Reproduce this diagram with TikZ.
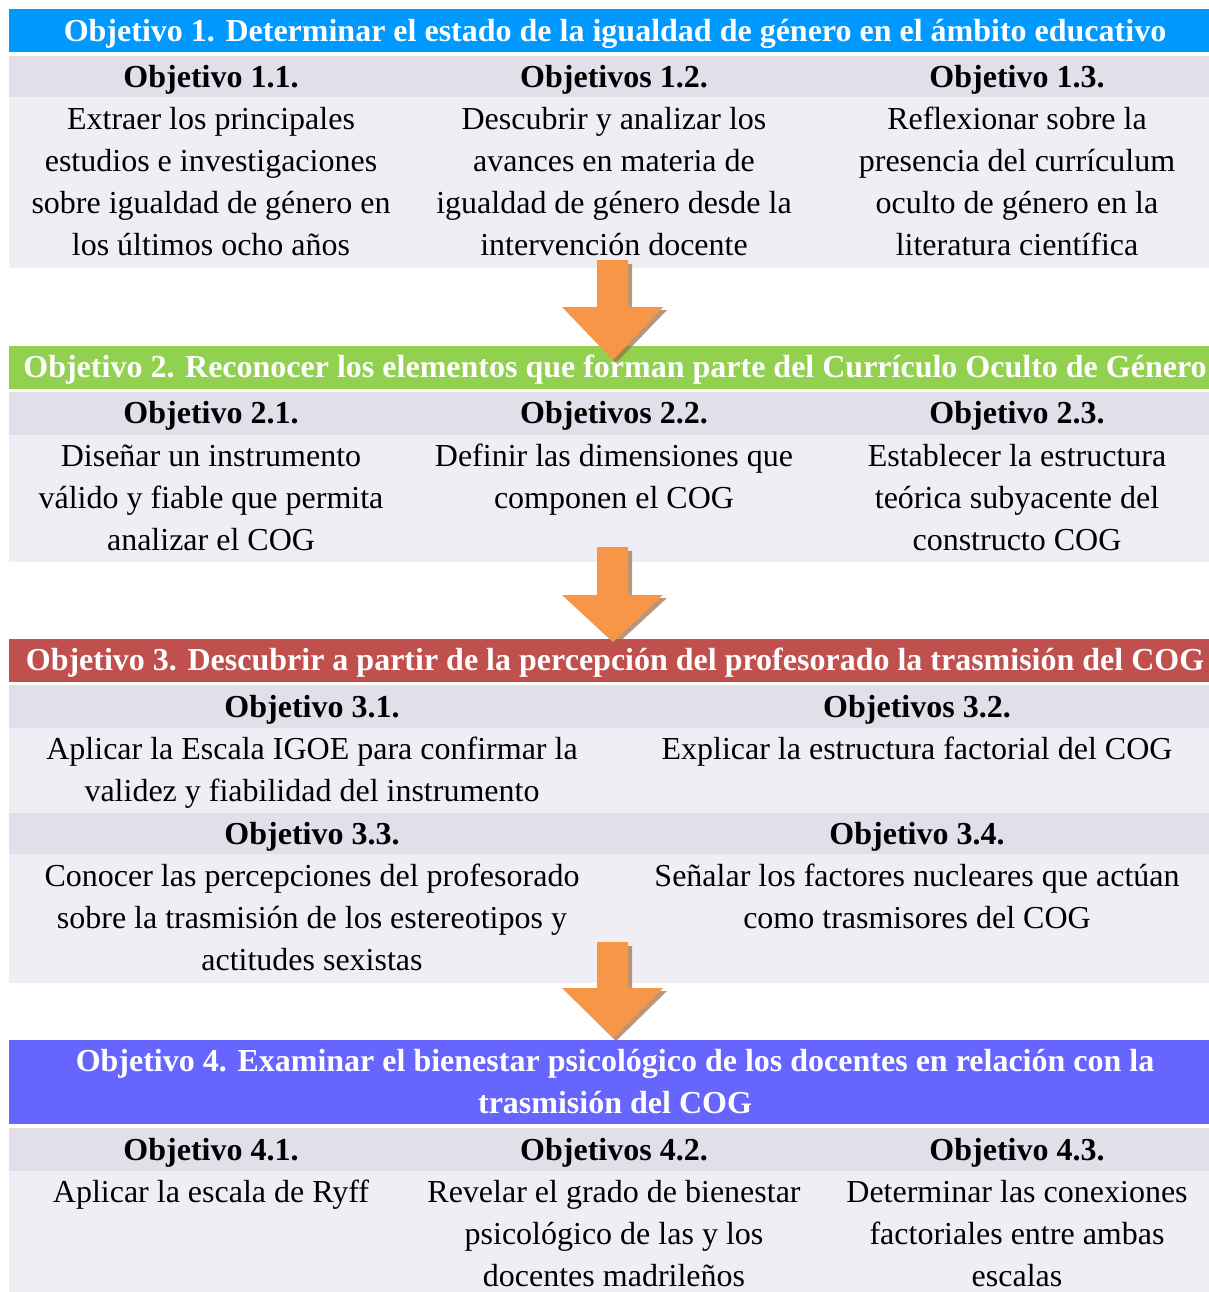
\documentclass[tikz,border=0pt]{standalone}
\usepackage{fontspec}
\setmainfont{Liberation Serif}
\definecolor{bOne}{HTML}{0099FF}
\definecolor{bTwo}{HTML}{92D050}
\definecolor{bThree}{HTML}{C0504D}
\definecolor{bFour}{HTML}{6666FF}
\definecolor{hdfill}{HTML}{E2DFEB}
\definecolor{bdfill}{HTML}{F0EEF5}
\definecolor{arrfill}{HTML}{F79646}
\definecolor{arrshadow}{HTML}{9C6A43}
\begin{document}
\begin{tikzpicture}[x=1pt,y=-1pt,
  bannertxt/.style={anchor=north,inner sep=0pt,align=center,text=white,font=\bfseries\fontsize{32}{42}\selectfont},
  headtxt/.style={anchor=north,inner sep=0pt,align=center,font=\bfseries\fontsize{32}{42}\selectfont},
  bodytxt/.style={anchor=north,inner sep=0pt,align=center,font=\fontsize{32}{42}\selectfont},
  hdrow/.style={fill=hdfill},
  bdrow/.style={fill=bdfill}]
\fill[white] (0,0) rectangle (1209,1292);
\useasboundingbox (0,0) rectangle (1209,1292);
% ---------- block 1
\fill[bOne] (9,9) rectangle (1209,52);
\fill[hdrow] (9,56) rectangle (1209,97);
\fill[bdrow] (9,97) rectangle (1209,268);
\node[bannertxt] (t1) at (615,11.6) {\strut Objetivo 1. Determinar el estado de la igualdad de género en el ámbito educativo};
\node[headtxt] (h11) at (211,57.6) {\strut Objetivo 1.1.};
\node[headtxt] (h12) at (614,57.6) {\strut Objetivos 1.2.};
\node[headtxt] (h13) at (1017,57.6) {\strut Objetivo 1.3.};
\node[bodytxt] (o11) at (211,99.6) {\strut Extraer los principales\\estudios e investigaciones\\sobre igualdad de género en\\los últimos ocho años};
\node[bodytxt] (o12) at (614,99.6) {\strut Descubrir y analizar los\\avances en materia de\\igualdad de género desde la\\intervención docente};
\node[bodytxt] (o13) at (1017,99.6) {\strut Reflexionar sobre la\\presencia del currículum\\oculto de género en la\\literatura científica};
% ---------- block 2
\fill[bTwo] (9,346) rectangle (1209,389);
\fill[hdrow] (9,392) rectangle (1209,435);
\fill[bdrow] (9,435) rectangle (1209,562);
\node[bannertxt] (t2) at (615,347.6) {\strut Objetivo 2. Reconocer los elementos que forman parte del Currículo Oculto de Género};
\node[headtxt] (h21) at (211,393.6) {\strut Objetivo 2.1.};
\node[headtxt] (h22) at (614,393.6) {\strut Objetivos 2.2.};
\node[headtxt] (h23) at (1017,393.6) {\strut Objetivo 2.3.};
\node[bodytxt] (o21) at (211,436.6) {\strut Diseñar un instrumento\\válido y fiable que permita\\analizar el COG};
\node[bodytxt] (o22) at (614,436.6) {\strut Definir las dimensiones que\\componen el COG};
\node[bodytxt] (o23) at (1017,436.6) {\strut Establecer la estructura\\teórica subyacente del\\constructo COG};
% ---------- block 3
\fill[bThree] (9,639) rectangle (1209,682);
\fill[hdrow] (9,685) rectangle (1209,728);
\fill[bdrow] (9,728) rectangle (1209,813);
\fill[hdrow] (9,813) rectangle (1209,854);
\fill[bdrow] (9,854) rectangle (1209,983);
\node[bannertxt] (t3) at (615,640.6) {\strut Objetivo 3. Descubrir a partir de la percepción del profesorado la trasmisión del COG};
\node[headtxt] (h31) at (312,687.6) {\strut Objetivo 3.1.};
\node[headtxt] (h32) at (917,687.6) {\strut Objetivos 3.2.};
\node[bodytxt] (o31) at (312,729.6) {\strut Aplicar la Escala IGOE para confirmar la\\validez y fiabilidad del instrumento};
\node[bodytxt] (o32) at (917,729.6) {\strut Explicar la estructura factorial del COG};
\node[headtxt] (h33) at (312,814.6) {\strut Objetivo 3.3.};
\node[headtxt] (h34) at (917,814.6) {\strut Objetivo 3.4.};
\node[bodytxt] (o33) at (312,856.6) {\strut Conocer las percepciones del profesorado\\sobre la trasmisión de los estereotipos y\\actitudes sexistas};
\node[bodytxt] (o34) at (917,856.6) {\strut Señalar los factores nucleares que actúan\\como trasmisores del COG};
% ---------- block 4
\fill[bFour] (9,1040) rectangle (1209,1124);
\fill[hdrow] (9,1128) rectangle (1209,1171);
\fill[bdrow] (9,1171) rectangle (1209,1292);
\node[bannertxt] (t4) at (615,1041.6) {\strut Objetivo 4. Examinar el bienestar psicológico de los docentes en relación con la\\trasmisión del COG};
\node[headtxt] (h41) at (211,1130.6) {\strut Objetivo 4.1.};
\node[headtxt] (h42) at (614,1130.6) {\strut Objetivos 4.2.};
\node[headtxt] (h43) at (1017,1130.6) {\strut Objetivo 4.3.};
\node[bodytxt] (o41) at (211,1172.6) {\strut Aplicar la escala de Ryff};
\node[bodytxt] (o42) at (614,1172.6) {\strut Revelar el grado de bienestar\\psicológico de las y los\\docentes madrileños};
\node[bodytxt] (o43) at (1017,1172.6) {\strut Determinar las conexiones\\factoriales entre ambas\\escalas};
% ---------- arrows
\foreach \top/\hd/\tip in {260/307/360, 547/595/642, 942/988/1038}{
  \fill[arrshadow,opacity=0.7] (601,\top+4) -- (632,\top+4) -- (632,\hd+3) -- (667,\hd+3) -- (616,\tip+3) -- (566,\hd+3) -- (601,\hd+3) -- cycle;
  \fill[arrfill] (597,\top) -- (628,\top) -- (628,\hd) -- (663,\hd) -- (613,\tip) -- (562,\hd) -- (597,\hd) -- cycle;
}
\end{tikzpicture}
\end{document}
